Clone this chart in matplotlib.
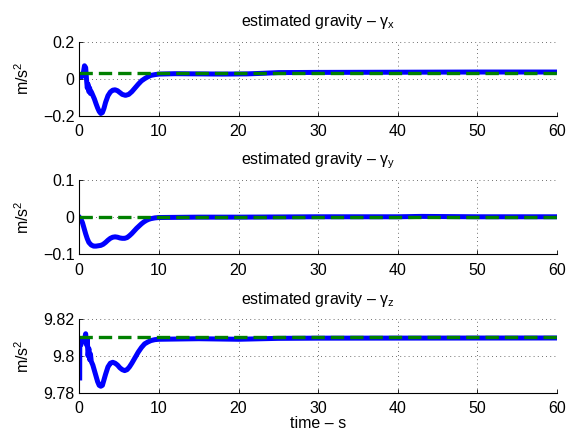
import matplotlib
matplotlib.use("Agg")
import matplotlib.pyplot as plt

plt.rcParams['font.family'] = ['Liberation Sans', 'DejaVu Sans']
plt.rcParams['mathtext.fontset'] = 'custom'
plt.rcParams['mathtext.rm'] = 'Liberation Sans'
plt.rcParams['mathtext.it'] = 'Liberation Sans'
plt.rcParams['font.size'] = 10

# gamma_x estimate
tx = [0, 0.3, 0.5, 0.65, 0.8, 0.9, 1.0, 1.1, 1.2, 1.3, 1.4, 1.5, 1.7, 1.9, 2.1, 2.3, 2.5,
      2.7, 2.9, 3.1, 3.3, 3.6, 3.9, 4.2, 4.5, 4.8, 5.1, 5.4, 5.8, 6.2, 6.6, 7.0, 7.4, 7.8,
      8.2, 8.6, 9.0, 9.5, 10, 12, 15, 18, 21, 23, 25, 30, 40, 50, 60]
gx = [0.02, 0.01, 0.03, 0.07, 0.06, 0.0, -0.05, -0.03, -0.07, -0.05, -0.08, -0.07, -0.09,
      -0.11, -0.135, -0.158, -0.177, -0.188, -0.183, -0.16, -0.128, -0.092, -0.072, -0.062,
      -0.06, -0.065, -0.075, -0.085, -0.09, -0.085, -0.07, -0.05, -0.03, -0.012, 0.0, 0.01,
      0.018, 0.022, 0.025, 0.027, 0.026, 0.025, 0.026, 0.029, 0.033, 0.034, 0.035, 0.036, 0.036]
gx_true = 0.03

# gamma_y estimate
ty = [0, 0.2, 0.4, 0.6, 0.8, 1.0, 1.2, 1.5, 1.8, 2.1, 2.4, 2.7, 3.0, 3.3, 3.6, 3.9, 4.2,
      4.5, 4.8, 5.1, 5.4, 5.7, 6.0, 6.3, 6.6, 6.9, 7.2, 7.5, 7.8, 8.1, 8.4, 8.7, 9.0, 9.5,
      10, 15, 20, 30, 40, 43, 50, 60]
gy = [0.0, -0.005, -0.015, -0.03, -0.045, -0.058, -0.068, -0.075, -0.078, -0.078, -0.077,
      -0.076, -0.073, -0.068, -0.062, -0.057, -0.054, -0.053, -0.054, -0.056, -0.057, -0.057,
      -0.055, -0.05, -0.044, -0.037, -0.03, -0.024, -0.018, -0.013, -0.009, -0.006, -0.004,
      -0.002, -0.001, 0.0, 0.0, 0.001, 0.001, 0.002, 0.001, 0.001]
gy_true = 0.0

# gamma_z estimate
tz = [0.05, 0.06, 0.2, 0.4, 0.6, 0.8, 0.9, 1.0, 1.1, 1.2, 1.3, 1.4, 1.5, 1.7, 1.9, 2.1, 2.3,
      2.5, 2.7, 2.9, 3.1, 3.3, 3.6, 3.9, 4.2, 4.5, 4.8, 5.1, 5.4, 5.7, 6.0, 6.3, 6.6, 7.0,
      7.4, 7.8, 8.2, 8.6, 9.0, 9.5, 10, 15, 20, 25, 30, 60]
gz = [9.788, 9.808, 9.806, 9.809, 9.808, 9.812, 9.806, 9.809, 9.80, 9.804, 9.798, 9.801,
      9.797, 9.795, 9.792, 9.789, 9.786, 9.784, 9.7835, 9.784, 9.787, 9.79, 9.794, 9.796,
      9.7965, 9.796, 9.795, 9.7935, 9.7925, 9.792, 9.7925, 9.794, 9.796, 9.799, 9.802,
      9.8045, 9.8065, 9.8075, 9.8083, 9.8088, 9.809, 9.8093, 9.809, 9.8095, 9.8096, 9.8097]
gz_true = 9.81

xticks = [0, 10, 20, 30, 40, 50, 60]
panels = [
    (tx, gx, gx_true, [-0.2, 0, 0.2], ['\u22120.2', '0', '0.2'], 'x'),
    (ty, gy, gy_true, [-0.1, 0, 0.1], ['\u22120.1', '0', '0.1'], 'y'),
    (tz, gz, gz_true, [9.78, 9.8, 9.82], ['9.78', '9.8', '9.82'], 'z'),
]

W, H = 568, 437
fig = plt.figure(figsize=(W / 100, H / 100), dpi=100)
tops = [(41.7, 115.7), (180, 254.3), (319, 392.7)]
left, right = 79.3, 557

for (t, g, gtrue, yt, ytl, comp), (top, bot) in zip(panels, tops):
    ax = fig.add_axes([left / W, 1 - bot / H, (right - left) / W, (bot - top) / H])
    ax.plot(t, g, color='#0000ff', lw=3.6, solid_joinstyle='round')
    ax.plot([0, 60], [gtrue, gtrue], color='#008000', lw=2.4, dashes=(4, 1.8))
    ax.set_xlim(0, 60)
    ax.set_ylim(yt[0], yt[-1])
    ax.set_xticks(xticks)
    ax.set_yticks(yt)
    ax.set_yticklabels(ytl)
    ax.grid(True, color='0.25', linestyle=(0, (1, 4)), lw=0.6)
    ax.spines['top'].set_visible(False)
    ax.spines['right'].set_visible(False)
    ax.tick_params(direction='in', length=3, width=0.6, labelsize=11.5)
    ax.tick_params(axis='x', pad=6)
    ax.set_title('estimated gravity \u2013 $\\mathrm{\\gamma}_\\mathrm{' + comp + '}$',
                 fontsize=11.5, pad=11)
    ax.set_ylabel('m/s$^2$', fontsize=11.5)
    ax.yaxis.set_label_coords(-0.1, 0.5)
    if comp == 'z':
        ax.set_xlabel('time \u2013 s', fontsize=11.5, labelpad=0)

fig.savefig('out.png', dpi=100)
